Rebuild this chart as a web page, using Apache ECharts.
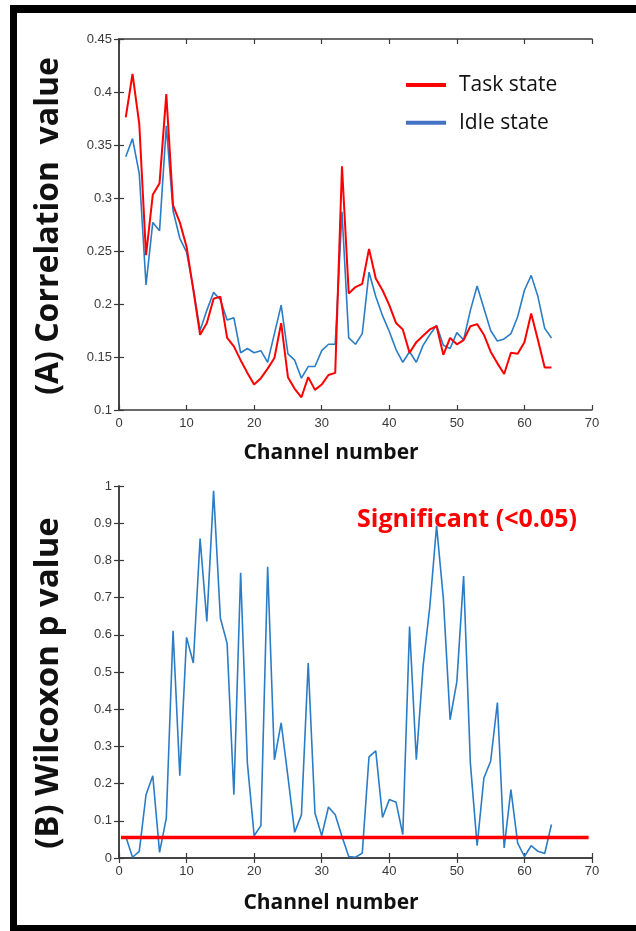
<!DOCTYPE html>
<html><head><meta charset="utf-8">
<script src="https://cdn.jsdelivr.net/npm/echarts@6/dist/echarts.min.js"></script>
<style>html,body{margin:0;padding:0;background:#fff}#c{width:636px;height:931px}</style>
</head><body><div id="c"></div>
<script>
const channels = [1,2,3,4,5,6,7,8,9,10,11,12,13,14,15,16,17,18,19,20,21,22,23,24,25,26,27,28,29,30,31,32,33,34,35,36,37,38,39,40,41,42,43,44,45,46,47,48,49,50,51,52,53,54,55,56,57,58,59,60,61,62,63,64];
const taskState = [0.376,0.417,0.370,0.246,0.303,0.314,0.398,0.293,0.277,0.254,
  0.213,0.171,0.182,0.205,0.207,0.168,0.160,0.147,0.135,0.124,
  0.130,0.139,0.149,0.182,0.131,0.120,0.112,0.131,0.119,0.124,
  0.133,0.135,0.330,0.210,0.216,0.219,0.252,0.224,0.213,0.199,
  0.182,0.176,0.154,0.164,0.170,0.176,0.179,0.152,0.168,0.162,
  0.166,0.179,0.181,0.171,0.155,0.144,0.134,0.154,0.153,0.164,
  0.191,0.166,0.140,0.140];
const idleState = [0.339,0.356,0.323,0.218,0.277,0.269,0.368,0.288,0.262,0.249,
  0.215,0.175,0.194,0.211,0.204,0.185,0.187,0.154,0.158,0.154,
  0.156,0.145,0.172,0.199,0.153,0.147,0.130,0.141,0.141,0.156,
  0.162,0.162,0.287,0.168,0.162,0.172,0.230,0.207,0.189,0.174,
  0.157,0.145,0.155,0.145,0.161,0.171,0.180,0.161,0.158,0.173,
  0.166,0.194,0.217,0.196,0.175,0.165,0.167,0.172,0.188,0.213,
  0.227,0.207,0.177,0.168];
const wilcoxonP = [0.058,0.002,0.018,0.170,0.221,0.015,0.107,0.611,0.221,0.593,
  0.524,0.859,0.636,0.987,0.645,0.577,0.170,0.767,0.255,0.060,
  0.087,0.783,0.264,0.363,0.219,0.069,0.116,0.524,0.121,0.060,
  0.137,0.116,0.058,0.004,0.002,0.013,0.272,0.288,0.109,0.157,
  0.150,0.063,0.622,0.264,0.515,0.676,0.893,0.698,0.372,0.474,
  0.758,0.255,0.033,0.215,0.260,0.418,0.027,0.184,0.040,0.004,
  0.033,0.018,0.012,0.090];
const significanceLevel = 0.055;
const significanceSpan = [0.3, 69.5];
const xRange = [0, 70, 10];
const corrRange = [0.1, 0.45, 0.05];
const pRange = [0, 1, 0.1];
const seriesNames = ['Task state', 'Idle state'];
const labels = {
  x: 'Channel number',
  yA: '(A) Correlation  value',
  yB: '(B) Wilcoxon p value',
  sig: 'Significant (<0.05)'
};

const axisColor = '#3a3a3a';
const tickFont = {color:'#3a3a3a', fontFamily:'Liberation Sans', fontSize:13};
function xAx(grid, pos, showLabel){
  return {type:'value', gridIndex:grid, position:pos, min:xRange[0], max:xRange[1], interval:xRange[2],
    axisLine:{show:true, lineStyle:{color:axisColor, width:1.5}},
    axisTick:{show:true, inside:true, length:5, lineStyle:{color:axisColor, width:1.2}},
    axisLabel:Object.assign({show:showLabel, margin:7}, tickFont),
    splitLine:{show:false}};
}
function yAx(grid, pos, r, showLabel){
  return {type:'value', gridIndex:grid, position:pos, min:r[0], max:r[1], interval:r[2],
    axisLine:{show:true, lineStyle:{color:axisColor, width:1.5}},
    axisTick:{show:true, inside:true, length:5, lineStyle:{color:axisColor, width:1.2}},
    axisLabel:Object.assign({show:showLabel, margin:7}, tickFont),
    splitLine:{show:false}};
}

const chart = echarts.init(document.getElementById('c'), null, {renderer:'canvas'});
const titleFont = {fontFamily:'Open Sans', fontWeight:'bold', fill:'#111'};
chart.setOption({
  animation:false,
  backgroundColor:'#fff',
  grid:[
    {left:119, top:39, width:473, height:371},
    {left:119, top:486, width:473, height:372}
  ],
  xAxis:[xAx(0,'bottom',true), xAx(0,'top',false), xAx(1,'bottom',true), xAx(1,'top',false)],
  yAxis:[yAx(0,'left',corrRange,true), yAx(0,'right',corrRange,false), yAx(1,'left',pRange,true), yAx(1,'right',pRange,false)],
  legend:{
    data:[{name:seriesNames[0], itemStyle:{color:'#ff0000'}}, {name:seriesNames[1], itemStyle:{color:'#4472c4'}}],
    orient:'vertical', left:401, top:68, icon:'rect', itemWidth:40, itemHeight:4, itemGap:13.7,
    textStyle:{fontFamily:'Open Sans', fontSize:21, color:'#111', lineHeight:24, padding:[0,0,0,8]}
  },
  series:[
    {name:seriesNames[0], type:'line', xAxisIndex:0, yAxisIndex:0, showSymbol:false,
      data:channels.map((c,i)=>[c, taskState[i]]), lineStyle:{color:'#ff0000', width:2}, itemStyle:{color:'#ff0000'}, z:3},
    {name:seriesNames[1], type:'line', xAxisIndex:0, yAxisIndex:0, showSymbol:false,
      data:channels.map((c,i)=>[c, idleState[i]]), lineStyle:{color:'#2a7cc6', width:1.6}, itemStyle:{color:'#2a7cc6'}, z:2},
    {name:'p', type:'line', xAxisIndex:2, yAxisIndex:2, showSymbol:false,
      data:channels.map((c,i)=>[c, wilcoxonP[i]]), lineStyle:{color:'#2a7cc6', width:1.6}, itemStyle:{color:'#2a7cc6'}},
    {name:'sig', type:'line', xAxisIndex:2, yAxisIndex:2, showSymbol:false,
      data:significanceSpan.map(x=>[x, significanceLevel]), lineStyle:{color:'#ff0000', width:3.5}, z:4}
  ],
  graphic:[
    {type:'rect', shape:{x:10, y:5, width:626, height:8}, style:{fill:'#000'}},
    {type:'rect', shape:{x:10, y:5, width:7, height:926}, style:{fill:'#000'}},
    {type:'rect', shape:{x:10, y:925, width:626, height:6}, style:{fill:'#000'}},
    {type:'text', x:49, y:226, rotation:Math.PI/2, style:Object.assign({text:labels.yA, fontSize:32, align:'center', verticalAlign:'middle'}, titleFont)},
    {type:'text', x:49, y:683, rotation:Math.PI/2, style:Object.assign({text:labels.yB, fontSize:33, align:'center', verticalAlign:'middle'}, titleFont)},
    {type:'text', x:331, y:453, style:Object.assign({text:labels.x, fontSize:21, align:'center', verticalAlign:'middle'}, titleFont)},
    {type:'text', x:331, y:903, style:Object.assign({text:labels.x, fontSize:21, align:'center', verticalAlign:'middle'}, titleFont)},
    {type:'text', x:467, y:520, style:{text:labels.sig, fontFamily:'Open Sans', fontWeight:'bold', fontSize:25, fill:'#ff0000', align:'center', verticalAlign:'middle'}}
  ]
});
</script>
</body></html>
